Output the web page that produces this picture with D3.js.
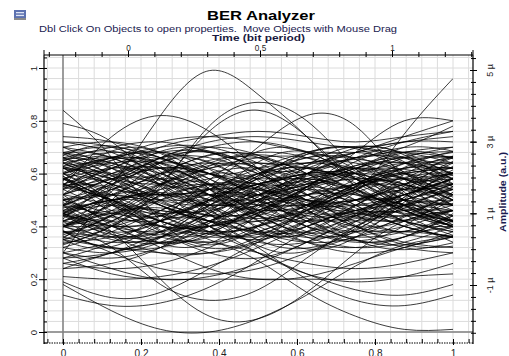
<!DOCTYPE html>
<html><head><meta charset="utf-8">
<script src="https://cdn.jsdelivr.net/npm/d3@7"></script>
<style>body{margin:0;background:#fff;overflow:hidden}svg{display:block;font-family:Arial,"Liberation Sans",sans-serif}</style>
</head><body><svg id="c" width="509" height="356"></svg>
<script>
// ---------- data ----------
const timePoints = [0, 0.125, 0.25, 0.375, 0.5, 0.625, 0.75, 0.875, 1];
const timePointsB = [-0.0625, 0.0625, 0.1875, 0.3125, 0.4375, 0.5625, 0.6875, 0.8125, 0.9375, 1.0625];
const outlierTraces = [
 [0.30,0.55,0.82,0.99,0.90,0.74,0.55,0.42,0.40],
 [0.84,0.66,0.42,0.33,0.40,0.55,0.62,0.58,0.50],
 [0.79,0.72,0.55,0.40,0.35,0.42,0.55,0.60,0.55],
 [0.55,0.74,0.82,0.76,0.62,0.48,0.42,0.47,0.55],
 [0.35,0.40,0.55,0.78,0.87,0.80,0.62,0.48,0.42],
 [0.40,0.42,0.56,0.76,0.84,0.74,0.58,0.50,0.48],
 [0.45,0.38,0.42,0.55,0.70,0.82,0.78,0.58,0.42],
 [0.55,0.50,0.42,0.38,0.40,0.45,0.53,0.75,0.96],
 [0.45,0.50,0.48,0.42,0.45,0.55,0.68,0.80,0.80],
 [0.18,0.08,0.01,0.00,0.05,0.14,0.25,0.33,0.36],
 [0.48,0.38,0.20,0.06,0.05,0.15,0.30,0.42,0.46],
 [0.40,0.45,0.42,0.35,0.27,0.15,0.06,0.01,0.01],
 [0.14,0.10,0.11,0.17,0.27,0.38,0.45,0.45,0.42],
 [0.19,0.13,0.15,0.24,0.34,0.42,0.45,0.42,0.38],
 [0.40,0.45,0.47,0.42,0.32,0.20,0.12,0.10,0.14],
 [0.45,0.48,0.45,0.38,0.30,0.22,0.16,0.14,0.18],
 [0.40,0.32,0.18,0.12,0.16,0.28,0.40,0.48,0.50]
];
const lowerTraces = [
 [0.21,0.20,0.21,0.25,0.32,0.40,0.46,0.48,0.46],
 [0.30,0.24,0.20,0.21,0.26,0.34,0.42,0.46,0.46],
 [0.45,0.40,0.32,0.24,0.20,0.21,0.26,0.32,0.36],
 [0.50,0.52,0.48,0.40,0.30,0.22,0.19,0.21,0.26],
 [0.24,0.30,0.34,0.34,0.30,0.26,0.24,0.26,0.30],
 [0.38,0.30,0.24,0.22,0.24,0.30,0.36,0.38,0.36],
 [0.28,0.22,0.20,0.20,0.20,0.20,0.20,0.21,0.22]
];
const upperTraces = [
 [0.74,0.72,0.66,0.60,0.58,0.60,0.66,0.72,0.76],
 [0.60,0.66,0.72,0.74,0.72,0.68,0.66,0.70,0.78],
 [0.52,0.58,0.66,0.72,0.74,0.72,0.70,0.72,0.74],
 [0.66,0.70,0.72,0.68,0.64,0.64,0.68,0.74,0.80],
 [0.56,0.62,0.70,0.74,0.76,0.74,0.72,0.74,0.76]
];
const coreTraces = [
 [0.62,0.58,0.50,0.42,0.38,0.40,0.48,0.56,0.60],
 [0.35,0.42,0.52,0.60,0.62,0.57,0.48,0.40,0.36],
 [0.55,0.60,0.64,0.62,0.55,0.46,0.40,0.42,0.50],
 [0.45,0.38,0.34,0.36,0.44,0.54,0.62,0.64,0.60],
 [0.70,0.66,0.58,0.50,0.46,0.48,0.55,0.62,0.66],
 [0.30,0.34,0.40,0.48,0.55,0.60,0.60,0.55,0.48],
 [0.58,0.50,0.42,0.40,0.45,0.55,0.63,0.66,0.62],
 [0.40,0.48,0.58,0.65,0.66,0.60,0.50,0.42,0.38],
 [0.65,0.68,0.66,0.58,0.48,0.40,0.36,0.38,0.44],
 [0.50,0.45,0.44,0.50,0.58,0.64,0.64,0.58,0.50],
 [0.28,0.30,0.36,0.45,0.52,0.55,0.52,0.46,0.40],
 [0.72,0.70,0.62,0.52,0.44,0.42,0.46,0.52,0.56],
 [0.44,0.52,0.60,0.64,0.60,0.52,0.45,0.44,0.48],
 [0.60,0.52,0.44,0.38,0.36,0.40,0.48,0.58,0.66],
 [0.38,0.36,0.38,0.45,0.55,0.63,0.68,0.68,0.64],
 [0.52,0.58,0.62,0.60,0.52,0.42,0.35,0.33,0.36],
 [0.66,0.60,0.52,0.48,0.50,0.57,0.63,0.64,0.58],
 [0.33,0.40,0.50,0.56,0.56,0.50,0.44,0.42,0.46],
 [0.56,0.50,0.46,0.46,0.52,0.60,0.66,0.68,0.66],
 [0.48,0.56,0.66,0.70,0.67,0.58,0.48,0.40,0.36],
 [0.68,0.64,0.56,0.46,0.38,0.34,0.36,0.44,0.52],
 [0.42,0.40,0.42,0.50,0.60,0.66,0.66,0.60,0.52],
 [0.60,0.64,0.64,0.58,0.50,0.45,0.46,0.52,0.58],
 [0.36,0.32,0.32,0.38,0.47,0.55,0.58,0.56,0.50],
 [0.54,0.46,0.40,0.40,0.46,0.54,0.58,0.56,0.50],
 [0.46,0.54,0.60,0.60,0.54,0.48,0.46,0.50,0.56],
 [0.64,0.66,0.62,0.54,0.46,0.42,0.44,0.50,0.54],
 [0.40,0.44,0.50,0.54,0.54,0.50,0.46,0.46,0.50],
 [0.58,0.54,0.52,0.54,0.60,0.66,0.68,0.64,0.56],
 [0.32,0.38,0.46,0.52,0.52,0.46,0.38,0.32,0.30],
 [0.70,0.62,0.52,0.44,0.42,0.46,0.54,0.60,0.62],
 [0.50,0.52,0.56,0.62,0.66,0.66,0.60,0.50,0.42],
 [0.44,0.36,0.30,0.30,0.36,0.46,0.56,0.62,0.64],
 [0.62,0.66,0.70,0.70,0.64,0.55,0.47,0.44,0.46],
 [0.36,0.44,0.54,0.60,0.58,0.50,0.42,0.38,0.40],
 [0.56,0.52,0.50,0.50,0.50,0.52,0.56,0.60,0.62],
 [0.47,0.50,0.54,0.56,0.54,0.48,0.40,0.34,0.32],
 [0.66,0.58,0.48,0.42,0.42,0.48,0.56,0.64,0.68],
 [0.30,0.28,0.32,0.40,0.50,0.58,0.62,0.60,0.54],
 [0.52,0.60,0.66,0.66,0.60,0.52,0.48,0.50,0.56],
 [0.42,0.46,0.46,0.42,0.38,0.38,0.44,0.52,0.58],
 [0.60,0.56,0.48,0.40,0.34,0.34,0.40,0.48,0.54],
 [0.54,0.62,0.68,0.68,0.62,0.54,0.50,0.52,0.58],
 [0.38,0.34,0.36,0.44,0.54,0.60,0.58,0.50,0.42],
 [0.68,0.70,0.66,0.60,0.56,0.56,0.60,0.64,0.64],
 [0.26,0.30,0.38,0.48,0.56,0.58,0.54,0.46,0.40],
 [0.58,0.48,0.40,0.36,0.38,0.46,0.56,0.62,0.62],
 [0.46,0.50,0.52,0.52,0.48,0.44,0.44,0.48,0.54],
 [0.64,0.58,0.56,0.58,0.62,0.64,0.62,0.56,0.48],
 [0.34,0.36,0.42,0.50,0.58,0.62,0.62,0.58,0.54],
 [0.50,0.42,0.36,0.34,0.38,0.44,0.50,0.54,0.54],
 [0.72,0.68,0.60,0.54,0.52,0.56,0.62,0.68,0.70],
 [0.40,0.46,0.56,0.64,0.68,0.66,0.58,0.48,0.40],
 [0.56,0.62,0.62,0.56,0.46,0.38,0.34,0.36,0.42],
 [0.44,0.42,0.44,0.50,0.56,0.58,0.54,0.48,0.44],
 [0.62,0.60,0.56,0.52,0.52,0.56,0.62,0.66,0.66],
 [0.28,0.34,0.44,0.54,0.60,0.60,0.54,0.46,0.40],
 [0.52,0.48,0.42,0.38,0.40,0.48,0.58,0.66,0.70],
 [0.66,0.64,0.58,0.52,0.48,0.48,0.50,0.54,0.56],
 [0.48,0.54,0.58,0.56,0.50,0.42,0.38,0.40,0.46],
 [0.24,0.26,0.32,0.42,0.50,0.54,0.50,0.42,0.34],
 [0.60,0.50,0.38,0.30,0.28,0.34,0.44,0.54,0.60],
 [0.35,0.32,0.30,0.30,0.34,0.42,0.50,0.56,0.58],
 [0.70,0.72,0.68,0.60,0.52,0.48,0.48,0.52,0.58],
 [0.46,0.40,0.38,0.42,0.50,0.60,0.66,0.66,0.60],
 [0.54,0.58,0.58,0.52,0.44,0.36,0.32,0.34,0.40],
 [0.42,0.48,0.56,0.62,0.64,0.62,0.58,0.54,0.52],
 [0.58,0.62,0.60,0.52,0.42,0.34,0.30,0.32,0.38],
 [0.38,0.40,0.46,0.54,0.62,0.68,0.70,0.66,0.58],
 [0.64,0.56,0.50,0.48,0.52,0.58,0.60,0.58,0.52],
 [0.26,0.24,0.26,0.32,0.40,0.46,0.50,0.50,0.48],
 [0.50,0.56,0.64,0.70,0.72,0.68,0.60,0.52,0.48],
 [0.56,0.50,0.44,0.44,0.48,0.52,0.52,0.48,0.42],
 [0.44,0.50,0.52,0.48,0.40,0.34,0.32,0.36,0.44],
 [0.68,0.62,0.56,0.54,0.56,0.62,0.68,0.72,0.72],
 [0.32,0.30,0.34,0.42,0.48,0.50,0.46,0.40,0.36],
 [0.60,0.66,0.68,0.64,0.56,0.50,0.50,0.56,0.64],
 [0.48,0.44,0.40,0.40,0.44,0.50,0.56,0.58,0.56],
 [0.40,0.36,0.36,0.40,0.46,0.52,0.56,0.58,0.60],
 [0.62,0.56,0.52,0.52,0.56,0.60,0.60,0.54,0.46]
];
// traces sampled on the offset grid timePointsB
const swingTraces = [
 [0.70,0.60,0.45,0.34,0.32,0.40,0.55,0.66,0.68,0.62],
 [0.30,0.42,0.58,0.68,0.66,0.54,0.40,0.32,0.32,0.36],
 [0.50,0.64,0.70,0.62,0.46,0.34,0.32,0.42,0.56,0.66],
 [0.66,0.52,0.38,0.32,0.38,0.52,0.66,0.70,0.62,0.50],
 [0.36,0.50,0.64,0.70,0.64,0.50,0.38,0.34,0.40,0.50],
 [0.58,0.66,0.64,0.52,0.38,0.30,0.34,0.46,0.60,0.68],
 [0.44,0.34,0.32,0.42,0.58,0.68,0.66,0.56,0.44,0.36],
 [0.62,0.70,0.68,0.56,0.42,0.36,0.42,0.54,0.64,0.68],
 [0.40,0.32,0.36,0.50,0.64,0.70,0.64,0.52,0.42,0.36],
 [0.68,0.56,0.42,0.36,0.42,0.56,0.68,0.70,0.64,0.54],
 [0.34,0.46,0.60,0.66,0.60,0.46,0.36,0.36,0.46,0.58],
 [0.54,0.42,0.34,0.36,0.48,0.62,0.70,0.66,0.54,0.42],
 [0.60,0.68,0.66,0.54,0.40,0.32,0.34,0.44,0.56,0.64],
 [0.46,0.58,0.66,0.62,0.50,0.40,0.38,0.48,0.62,0.70],
 [0.64,0.54,0.46,0.46,0.54,0.64,0.68,0.60,0.46,0.36],
 [0.38,0.44,0.54,0.64,0.68,0.62,0.50,0.40,0.36,0.38],
 [0.56,0.46,0.38,0.38,0.46,0.56,0.60,0.56,0.48,0.40],
 [0.48,0.60,0.68,0.66,0.56,0.44,0.38,0.40,0.48,0.58],
 [0.32,0.36,0.46,0.58,0.66,0.66,0.58,0.48,0.42,0.40],
 [0.70,0.64,0.54,0.46,0.44,0.50,0.60,0.68,0.70,0.66],
 [0.42,0.54,0.62,0.60,0.50,0.40,0.36,0.42,0.54,0.62],
 [0.58,0.46,0.36,0.34,0.42,0.54,0.64,0.64,0.56,0.46],
 [0.52,0.62,0.66,0.60,0.48,0.38,0.36,0.44,0.58,0.66],
 [0.64,0.60,0.50,0.40,0.36,0.40,0.50,0.60,0.66,0.66],
 [0.36,0.40,0.50,0.60,0.64,0.58,0.46,0.36,0.32,0.34],
 [0.46,0.38,0.34,0.40,0.52,0.64,0.70,0.68,0.60,0.50],
 [0.60,0.64,0.60,0.50,0.40,0.36,0.40,0.50,0.58,0.62],
 [0.50,0.40,0.36,0.42,0.54,0.62,0.60,0.50,0.40,0.34],
 [0.40,0.50,0.60,0.62,0.56,0.46,0.42,0.46,0.56,0.62],
 [0.66,0.62,0.56,0.50,0.48,0.52,0.58,0.62,0.60,0.56],
 [0.54,0.56,0.52,0.46,0.44,0.48,0.56,0.64,0.68,0.68],
 [0.44,0.52,0.62,0.68,0.66,0.56,0.44,0.38,0.40,0.46],
 [0.62,0.54,0.44,0.38,0.38,0.44,0.52,0.56,0.54,0.50],
 [0.38,0.46,0.52,0.52,0.48,0.46,0.50,0.58,0.66,0.70],
 [0.56,0.64,0.66,0.60,0.52,0.48,0.50,0.56,0.60,0.60],
 [0.48,0.42,0.40,0.46,0.56,0.62,0.60,0.52,0.44,0.40],
 [0.34,0.40,0.48,0.54,0.56,0.52,0.46,0.42,0.44,0.48],
 [0.66,0.68,0.62,0.52,0.44,0.44,0.50,0.58,0.62,0.62],
 [0.52,0.46,0.42,0.44,0.50,0.56,0.56,0.50,0.44,0.40],
 [0.44,0.48,0.56,0.64,0.68,0.64,0.56,0.50,0.48,0.50]
];
const bottomTicks = [0, 0.2, 0.4, 0.6, 0.8, 1];
const leftTicks = [0, 0.2, 0.4, 0.6, 0.8, 1];
const topTicks = [0, 0.5, 1];
const topTickLabels = ["0", "0.5", "1"];
const rightTicks = [5, 3, 1, -1];
const rightTickLabels = ["5 \u00b5", "3 \u00b5", "1 \u00b5", "-1 \u00b5"];
const titleText = "BER Analyzer";
const subtitleText = "Dbl Click On Objects to open properties.  Move Objects with Mouse Drag";
const topAxisTitle = "Time (bit period)";
const rightAxisTitle = "Amplitude (a.u.)";

// ---------- layout ----------
const svg = d3.select("#c");
const P = {l:44, r:473, t:55, b:343};
const x = d3.scaleLinear().domain([0,1]).range([63,453]);
const y = d3.scaleLinear().domain([0,1]).range([332,68]);
const xTop = d3.scaleLinear().domain([0,1]).range([128,392]);
const yR = d3.scaleLinear().domain([-1,5]).range([285,70]);

// icon
const icon = svg.append("g").attr("transform","translate(14,10)");
icon.append("rect").attr("width",12).attr("height",8).attr("fill","#5d72b0");
icon.append("rect").attr("x",2).attr("y",2).attr("width",8).attr("height",1.3).attr("fill","#dfe5f4");
icon.append("rect").attr("x",2).attr("y",4.8).attr("width",8).attr("height",1.3).attr("fill","#dfe5f4");
icon.append("rect").attr("y",8).attr("width",12).attr("height",2).attr("fill","#8a8a8a");

// titles
svg.append("text").attr("x",207).attr("y",20)
  .attr("font-size",12.5).attr("font-weight","bold").attr("fill","#000")
  .attr("textLength",108).attr("lengthAdjust","spacingAndGlyphs").text(titleText);
svg.append("text").attr("x",39).attr("y",32).attr("xml:space","preserve")
  .attr("font-size",8.3).attr("fill","#1a1a50")
  .attr("textLength",358).attr("lengthAdjust","spacingAndGlyphs").text(subtitleText);
svg.append("text").attr("x",212).attr("y",41)
  .attr("font-size",8.4).attr("font-weight","bold").attr("fill","#1a1a40")
  .attr("textLength",93).attr("lengthAdjust","spacingAndGlyphs").text(topAxisTitle);

// grid
const gridX = d3.range(-1, 27).map(i => i*0.04);
const gridY = d3.range(-1, 27).map(i => i*0.04);
const gGrid = svg.append("g");
gGrid.selectAll("line.gx").data(gridX.filter(d => x(d) > P.l+1 && x(d) < P.r-1)).join("line")
  .attr("x1",d=>x(d)).attr("x2",d=>x(d)).attr("y1",P.t).attr("y2",P.b)
  .attr("stroke","#dcdcdc").attr("stroke-width",1);
gGrid.selectAll("line.gy").data(gridY.filter(d => y(d) > P.t+1 && y(d) < P.b-1)).join("line")
  .attr("y1",d=>y(d)).attr("y2",d=>y(d)).attr("x1",P.l).attr("x2",P.r)
  .attr("stroke","#dcdcdc").attr("stroke-width",1);
gGrid.append("line").attr("x1",x(0)).attr("x2",x(0)).attr("y1",P.t).attr("y2",P.b).attr("stroke","#808080").attr("stroke-width",1.5);
gGrid.append("line").attr("x1",P.l).attr("x2",P.r).attr("y1",y(0)).attr("y2",y(0)).attr("stroke","#808080").attr("stroke-width",1.5);

// traces (drawn over one bit period, t = 0..1)
svg.append("clipPath").attr("id","clip").append("rect")
  .attr("x",x(0)).attr("y",P.t).attr("width",x(1)-x(0)).attr("height",P.b-P.t);
const lineA = d3.line().x((d,i)=>x(timePoints[i])).y(d=>y(d)).curve(d3.curveNatural);
const lineB = d3.line().x((d,i)=>x(timePointsB[i])).y(d=>y(d)).curve(d3.curveNatural);
const traceG = svg.append("g").attr("clip-path","url(#clip)")
  .attr("fill","none").attr("stroke","#000").attr("stroke-width",0.85).attr("stroke-opacity",0.9);
traceG.selectAll("path.a").data([].concat(coreTraces, lowerTraces, upperTraces, outlierTraces)).join("path")
  .attr("class","a").attr("d", lineA);
traceG.selectAll("path.b").data(swingTraces).join("path")
  .attr("class","b").attr("d", lineB);

// axes
const axFont = sel => sel.selectAll("text").attr("font-size",9).attr("fill","#222").attr("font-family","Arial, 'Liberation Sans', sans-serif");

// left
const leftMinorAx = svg.append("g").attr("transform",`translate(${P.l},0)`)
  .call(d3.axisLeft(y).tickValues(gridY.filter(d=>y(d)>P.t && y(d)<P.b)).tickSize(-3).tickFormat(""));
const leftAx = svg.append("g").attr("transform",`translate(${P.l},0)`)
  .call(d3.axisLeft(y).tickValues(leftTicks).tickSize(5).tickFormat(d3.format("~g")));
[leftMinorAx,leftAx].forEach(s=>s.select(".domain").remove());
leftAx.selectAll("text").attr("x",null).attr("dy",null).attr("text-anchor","middle")
  .attr("transform","translate(-7,0) rotate(-90)");
axFont(leftAx);
leftAx.selectAll("text").attr("font-size",9.5);
svg.append("line").attr("x1",P.l).attr("x2",P.l).attr("y1",P.t).attr("y2",P.b+1).attr("stroke","#000").attr("stroke-width",1.2);

// bottom
const bottomMinorAx = svg.append("g").attr("transform",`translate(0,${P.b})`)
  .call(d3.axisBottom(x).tickValues(gridX.filter(d=>x(d)>P.l && x(d)<P.r)).tickSize(-4).tickFormat(""));
const bottomAx = svg.append("g").attr("transform",`translate(0,${P.b})`)
  .call(d3.axisBottom(x).tickValues(bottomTicks).tickSize(2).tickPadding(5).tickFormat(d3.format("~g")));
[bottomMinorAx,bottomAx].forEach(s=>s.select(".domain").remove());
bottomAx.selectAll("text").attr("dy","0.71em").attr("y",7);
axFont(bottomAx);
bottomAx.selectAll("text").attr("font-size",10);
svg.append("line").attr("x1",P.l).attr("x2",P.r).attr("y1",P.b).attr("y2",P.b).attr("stroke","#000").attr("stroke-width",1.2).attr("stroke-dasharray","1.5,1");

// top
const topTickVals = d3.range(-3, 14).map(i=>i/10);
const topMinorAx = svg.append("g").attr("transform",`translate(0,${P.t})`)
  .call(d3.axisTop(xTop).tickValues(topTickVals.filter(d=>xTop(d)>P.l && xTop(d)<P.r)).tickSizeInner(3).tickFormat(""));
topMinorAx.selectAll(".tick line").attr("y1",2).attr("y2",-3);
const topAx = svg.append("g").attr("transform",`translate(0,${P.t})`)
  .call(d3.axisTop(xTop).tickValues(topTicks).tickSize(4).tickPadding(1).tickFormat((d,i)=>topTickLabels[i]));
topAx.selectAll(".tick line").attr("y1",2);
[topMinorAx,topAx].forEach(s=>s.select(".domain").remove());
axFont(topAx);
topAx.selectAll("text").attr("y",-4.5).attr("font-size",8.2);
svg.append("line").attr("x1",P.l).attr("x2",P.r).attr("y1",P.t).attr("y2",P.t).attr("stroke","#000").attr("stroke-width",1.2);
svg.append("line").attr("x1",P.l).attr("x2",P.l).attr("y1",P.t).attr("y2",P.t-5).attr("stroke","#000");
svg.append("line").attr("x1",P.r).attr("x2",P.r).attr("y1",P.t).attr("y2",P.t-5).attr("stroke","#000");

// right
const rMinorVals = d3.range(-8, 17).map(i=>i/3);
const rightMinorAx = svg.append("g").attr("transform",`translate(${P.r},0)`)
  .call(d3.axisRight(yR).tickValues(rMinorVals.filter(d=>yR(d)>P.t && yR(d)<P.b)).tickSize(3).tickFormat(""));
rightMinorAx.selectAll(".tick line").attr("x1",-2);
const rightAx = svg.append("g").attr("transform",`translate(${P.r},0)`)
  .call(d3.axisRight(yR).tickValues(rightTicks).tickSize(4).tickFormat((d,i)=>rightTickLabels[i]));
rightAx.selectAll(".tick line").attr("x1",-3);
[rightMinorAx,rightAx].forEach(s=>s.select(".domain").remove());
rightAx.selectAll("text").attr("x",null).attr("dy",null).attr("text-anchor","middle")
  .attr("transform","translate(20,0) rotate(-90)");
axFont(rightAx);
svg.append("line").attr("x1",P.r).attr("x2",P.r).attr("y1",P.t).attr("y2",P.b+1).attr("stroke","#000").attr("stroke-width",1.2);
svg.append("text").attr("transform","translate(506,192) rotate(-90)").attr("text-anchor","middle")
  .attr("font-size",9).attr("font-weight","bold").attr("fill","#1a1a50").attr("textLength",80).attr("lengthAdjust","spacingAndGlyphs").text(rightAxisTitle);
</script></body></html>
